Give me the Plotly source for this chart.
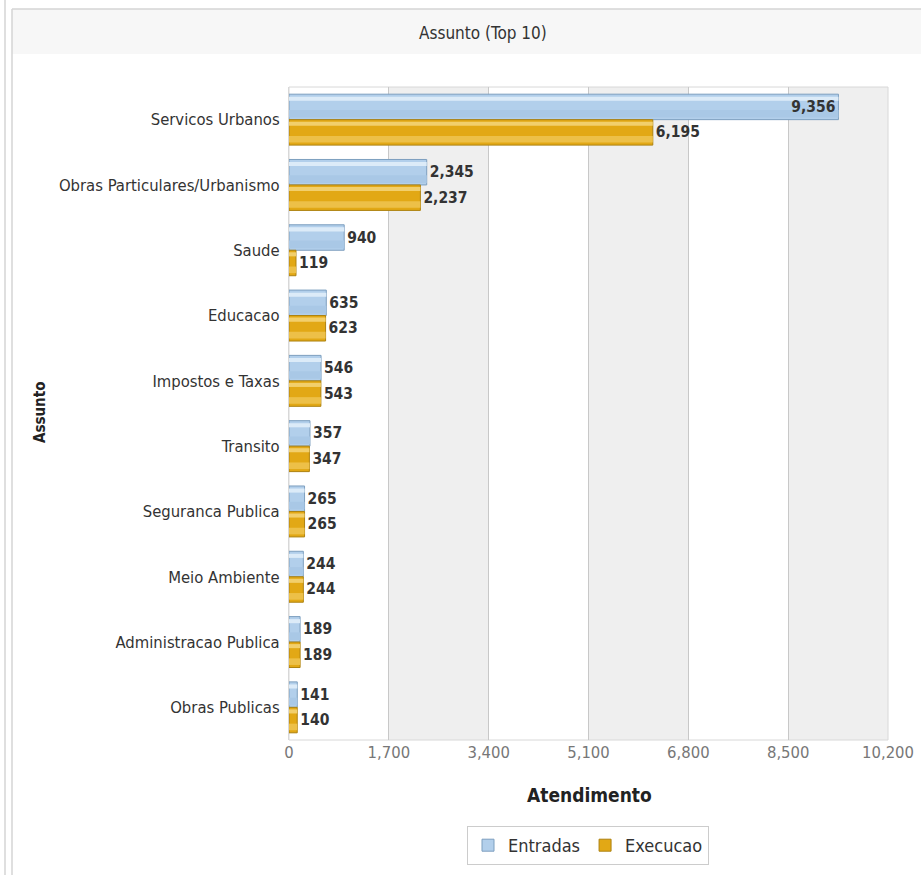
import plotly.graph_objects as go

categories = ["Servicos Urbanos", "Obras Particulares/Urbanismo", "Saude", "Educacao",
              "Impostos e Taxas", "Transito", "Seguranca Publica", "Meio Ambiente",
              "Administracao Publica", "Obras Publicas"]
entradas = [9356, 2345, 940, 635, 546, 357, 265, 244, 189, 141]
execucao = [6195, 2237, 119, 623, 543, 347, 265, 244, 189, 140]
x_ticks = [0, 1700, 3400, 5100, 6800, 8500, 10200]

FONT = "DejaVu Sans Condensed, DejaVu Sans, sans-serif"
W, H = 921, 875
L, R, T, B = 289, 888, 87, 740  # plot area in page pixels


def px(xp):
    return (xp - L) / (R - L)


def py(yp):
    return (B - yp) / (B - T)


BW = 0.39
fig = go.Figure()

series = [
    ("Entradas", entradas, -BW, "#b2cfeb", "#7d9fbf",
     [(0.10, 0.16, "#dcebf8"), (0.62, 0.30, "#a9c8e6")]),
    ("Execucao", execucao, 0.0, "#e2a815", "#ad8210",
     [(0.08, 0.16, "#f2cf6c"), (0.64, 0.26, "#edc048")]),
]
for name, vals, off, fill, border, stripes in series:
    fig.add_trace(go.Bar(
        name=name, y=categories, x=vals, orientation="h",
        offset=off, width=BW,
        marker=dict(color=fill, line=dict(color=border, width=1)),
        showlegend=True, hoverinfo="x+name",
    ))
    for s0, sw, col in stripes:
        fig.add_trace(go.Bar(
            y=categories, x=vals, orientation="h",
            offset=off + BW * s0, width=BW * sw,
            marker=dict(color=col, line=dict(width=0)),
            showlegend=False, hoverinfo="skip",
        ))
    pos = ["inside" if v > 9000 else "outside" for v in vals]
    fig.add_trace(go.Bar(
        y=categories, x=vals, orientation="h",
        offset=off, width=BW,
        marker=dict(color="rgba(0,0,0,0)", line=dict(width=0)),
        text=[f"{v:,}" for v in vals], textposition=pos,
        insidetextanchor="end", constraintext="none",
        textfont=dict(family=FONT, size=15.5, color="#333333", weight="bold"),
        showlegend=False, hoverinfo="skip", cliponaxis=False,
    ))

shapes = []
for i in range(1, len(x_ticks) - 1, 2):
    shapes.append(dict(type="rect", xref="x", yref="paper", x0=x_ticks[i], x1=x_ticks[i + 1],
                       y0=0, y1=1, fillcolor="#efefef", line=dict(width=0), layer="below"))
shapes.append(dict(type="rect", xref="paper", yref="paper", x0=0, x1=1, y0=0, y1=1,
                   line=dict(color="#d8d8d8", width=1), layer="below"))
shapes.append(dict(type="rect", xref="paper", yref="paper", x0=px(12), x1=px(921),
                   y0=py(54), y1=py(9), fillcolor="#f7f7f7", line=dict(width=0), layer="below"))
shapes.append(dict(type="line", xref="paper", yref="paper", x0=px(12), x1=px(921),
                   y0=py(9), y1=py(9), line=dict(color="#d4d4d4", width=1.5)))
shapes.append(dict(type="line", xref="paper", yref="paper", x0=px(12), x1=px(12),
                   y0=py(9), y1=py(875), line=dict(color="#d4d4d4", width=1.5)))
shapes.append(dict(type="line", xref="paper", yref="paper", x0=px(5), x1=px(5),
                   y0=py(0), y1=py(875), line=dict(color="#d4d4d4", width=1.5)))

annotations = [
    dict(text="Assunto (Top 10)", xref="paper", yref="paper", x=px(483), y=py(33),
         showarrow=False, font=dict(family=FONT, size=17, color="#333333"),
         xanchor="center", yanchor="middle"),
    dict(text="<b>Atendimento</b>", xref="paper", yref="paper", x=px(589), y=py(795),
         showarrow=False, font=dict(family=FONT, size=19, color="#222222"),
         xanchor="center", yanchor="middle"),
    dict(text="<b>Assunto</b>", xref="paper", yref="paper", x=px(40), y=py(413),
         showarrow=False, textangle=-90, font=dict(family=FONT, size=15, color="#222222"),
         xanchor="center", yanchor="middle"),
]

fig.update_layout(
    width=W, height=H, autosize=False,
    margin=dict(l=L, r=W - R, t=T, b=H - B, autoexpand=False),
    paper_bgcolor="white", plot_bgcolor="white",
    barmode="overlay",
    shapes=shapes, annotations=annotations,
    font=dict(family=FONT, size=16, color="#333333"),
    legend=dict(orientation="h", x=px(588), y=py(826), xanchor="center", yanchor="top",
                bordercolor="#cccccc", borderwidth=1, bgcolor="white",
                font=dict(family=FONT, size=18, color="#333333"), traceorder="normal"),
    xaxis=dict(range=[0, x_ticks[-1]], tickvals=x_ticks, ticktext=[f"{v:,}" for v in x_ticks],
               showgrid=True, gridcolor="#c8c8c8", zeroline=False, showline=False,
               tickfont=dict(family=FONT, size=16.5, color="#777777"), ticks="", fixedrange=True,
               automargin=False),
    yaxis=dict(autorange="reversed", showgrid=False, zeroline=False, showline=True,
               linecolor="#d8d8d8", ticks="", ticklabelstandoff=5, automargin=False,
               tickfont=dict(family=FONT, size=16.5, color="#333333")),
)

fig.write_html("out.html", config={"displayModeBar": False},
               post_script="document.body.style.margin='0';document.body.style.overflow='hidden';")
